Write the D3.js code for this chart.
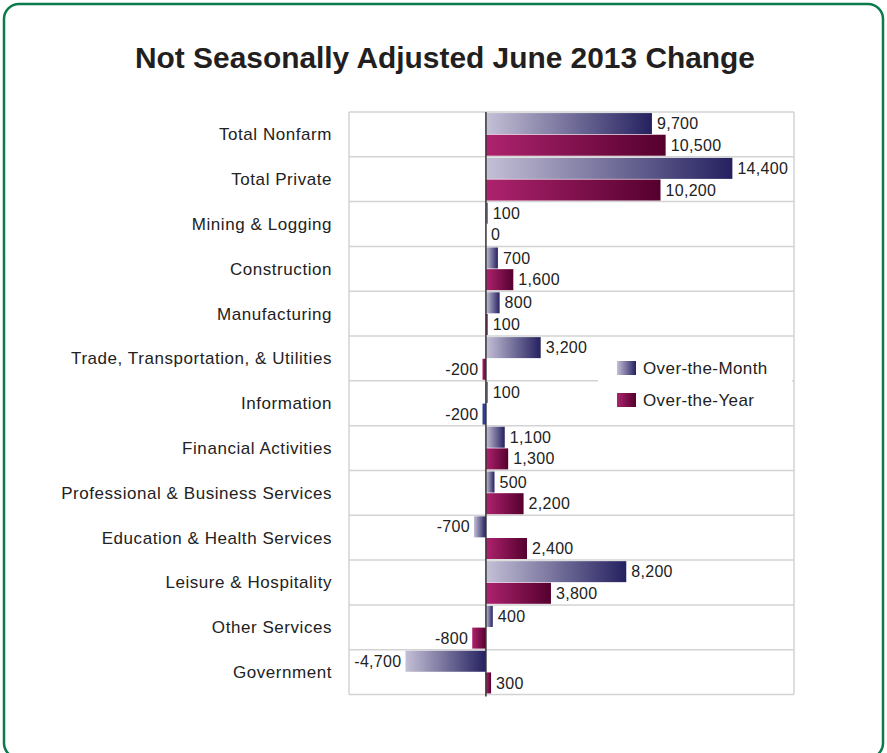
<!DOCTYPE html>
<html>
<head>
<meta charset="utf-8">
<script src="https://cdn.jsdelivr.net/npm/d3@7"></script>
<style>
  body { margin: 0; background: #fff; }
  text { font-family: "Liberation Sans", Arial, sans-serif; fill: #222; }
</style>
</head>
<body>
<svg class="chart"></svg>
<script>
// categories and values
const categories = ['Total Nonfarm', 'Total Private', 'Mining & Logging', 'Construction',
  'Manufacturing', 'Trade, Transportation, & Utilities', 'Information', 'Financial Activities',
  'Professional & Business Services', 'Education & Health Services', 'Leisure & Hospitality',
  'Other Services', 'Government']
const overMonth = [9700, 14400, 100, 700, 800, 3200, 100, 1100, 500, -700, 8200, 400, -4700]
const overYear = [10500, 10200, 0, 1600, 100, -200, -200, 1300, 2200, 2400, 3800, -800, 300]
const seriesNames = ['Over-the-Month', 'Over-the-Year']

const width = 887, height = 753
const plot = {left: 349, right: 794, top: 112, bottom: 694.5}

const svg = d3.select('.chart')
  .attr('width', width)
  .attr('height', height)

// gradients
const defs = svg.append('defs')
const grads = [
  {id: 'g-month', from: '#c4c0d6', to: '#252160'},
  {id: 'g-year', from: '#ad236e', to: '#55002e'}
]
grads.forEach(g => {
  let lg = defs.append('linearGradient').attr('id', g.id)
    .attr('x1', 0).attr('x2', 1).attr('y1', 0).attr('y2', 0)
  lg.append('stop').attr('offset', '0%').attr('stop-color', g.from)
  lg.append('stop').attr('offset', '100%').attr('stop-color', g.to)
})

// frame
svg.append('rect')
  .attr('x', 4).attr('y', 4)
  .attr('width', 879).attr('height', 754)
  .attr('rx', 15).attr('ry', 15)
  .attr('fill', 'none')
  .attr('stroke', '#0b7a4c')
  .attr('stroke-width', 2.5)

// condensed title: squeeze a bold face to the original width
svg.append('text')
  .attr('x', 135).attr('y', 68)
  .attr('textLength', 620)
  .attr('lengthAdjust', 'spacingAndGlyphs')
  .style('font-weight', 'bold')
  .style('font-size', '30px')
  .style('fill', '#231f20')
  .text('Not Seasonally Adjusted June 2013 Change')

let x = d3.scaleLinear()
  .domain([-8000, 18000])
  .range([plot.left, plot.right])

let y = d3.scaleBand()
  .domain(categories)
  .range([plot.top, plot.bottom])

let sub = d3.scaleBand()
  .domain([0, 1])
  .range([0, y.bandwidth()])
  .paddingInner(0.03)
  .paddingOuter(0.05)

// grid
const rows = categories.concat(['__end'])
svg.append('g').selectAll('line')
  .data(rows)
  .enter().append('line')
  .attr('x1', plot.left).attr('x2', plot.right)
  .attr('y1', (d, i) => i < categories.length ? y(d) : plot.bottom)
  .attr('y2', (d, i) => i < categories.length ? y(d) : plot.bottom)
  .attr('stroke', '#d3d3d3')
  .attr('stroke-width', 1.5)

svg.append('g').selectAll('line')
  .data([plot.left, plot.right])
  .enter().append('line')
  .attr('x1', d => d).attr('x2', d => d)
  .attr('y1', plot.top).attr('y2', plot.bottom)
  .attr('stroke', '#d3d3d3')
  .attr('stroke-width', 1.5)

// category labels
svg.append('g').selectAll('text')
  .data(categories)
  .enter().append('text')
  .attr('x', 332)
  .attr('y', d => y(d) + y.bandwidth() / 2)
  .attr('dy', '0.35em')
  .attr('text-anchor', 'end')
  .style('font-size', '17px')
  .style('letter-spacing', '0.55px')
  .text(d => d)

// bars
const fmt = d3.formatLocale({decimal: '.', thousands: ',', grouping: [3], currency: ['', ''], minus: '-'}).format(',')
const bars = []
categories.forEach((c, i) => {
  bars.push({cat: c, s: 0, v: overMonth[i]})
  bars.push({cat: c, s: 1, v: overYear[i]})
})

svg.append('g').selectAll('rect')
  .data(bars)
  .enter().append('rect')
  .attr('x', d => x(Math.min(0, d.v)))
  .attr('y', d => y(d.cat) + sub(d.s))
  .attr('width', d => Math.abs(x(d.v) - x(0)))
  .attr('height', sub.bandwidth())
  // the Information year bar is drawn in plain blue in the original
  .attr('fill', d => (d.cat === 'Information' && d.s === 1) ? '#2f3f94'
    : (d.s === 0 ? 'url(#g-month)' : 'url(#g-year)'))

svg.append('g').selectAll('text')
  .data(bars)
  .enter().append('text')
  .attr('x', d => d.v < 0 ? x(d.v) - 4 : x(d.v) + 5)
  .attr('y', d => y(d.cat) + sub(d.s) + sub.bandwidth() / 2)
  .attr('dy', '0.35em')
  .attr('text-anchor', d => d.v < 0 ? 'end' : 'start')
  .style('font-size', '16px')
  .style('letter-spacing', '0.3px')
  .text(d => fmt(d.v))

// zero line
svg.append('line')
  .attr('x1', x(0)).attr('x2', x(0))
  .attr('y1', plot.top).attr('y2', plot.bottom + 2)
  .attr('stroke', '#333')
  .attr('stroke-width', 1.5)

// legend
let legend = svg.append('g')
legend.append('rect')
  .attr('x', 598).attr('y', 340)
  .attr('width', 194).attr('height', 84)
  .attr('fill', '#fff')

let item = legend.selectAll('g')
  .data(seriesNames)
  .enter().append('g')
  .attr('transform', (d, i) => `translate(617, ${361 + i * 32})`)
item.append('rect')
  .attr('width', 19).attr('height', 14)
  .attr('fill', (d, i) => i === 0 ? 'url(#g-month)' : 'url(#g-year)')
item.append('text')
  .attr('x', 26).attr('y', 7)
  .attr('dy', '0.35em')
  .style('font-size', '17px')
  .style('letter-spacing', '0.4px')
  .text(d => d)
</script>
</body>
</html>
